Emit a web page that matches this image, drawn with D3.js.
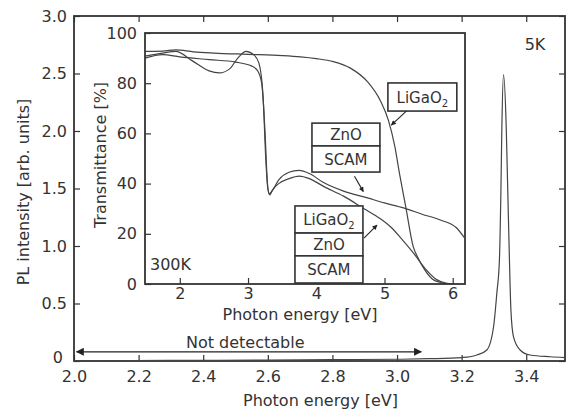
<!DOCTYPE html>
<html>
<head>
<meta charset="utf-8">
<script src="https://cdn.jsdelivr.net/npm/d3@7/dist/d3.min.js"></script>
<style>
  body { margin: 0; background: #fff; }
  text { font-family: "DejaVu Sans", sans-serif; fill: #333; }
</style>
</head>
<body>
<div id="chart-area"></div>
<script>
// PL spectrum at 5K (main plot)
const plEnergy = [2.0, 2.3, 2.6, 2.8, 3.0, 3.1, 3.2, 3.226, 3.247, 3.278, 3.299, 3.309, 3.317, 3.3215, 3.3246, 3.3296,
                  3.338, 3.343, 3.348, 3.3526, 3.3606, 3.381, 3.412, 3.474, 3.52];
const plIntensity = [0.0, 0.005, 0.008, 0.012, 0.015, 0.02, 0.03, 0.037, 0.052, 0.096, 0.3, 0.59, 0.88, 1.46, 2.04, 2.49,
                     2.04, 1.46, 0.88, 0.44, 0.21, 0.096, 0.052, 0.037, 0.03];

// Transmittance at 300K (inset)
const ligaoEnergy = [1.49, 1.75, 1.94, 2.2, 2.5, 3.0, 3.5, 3.77, 4.0, 4.25, 4.5, 4.75, 4.94, 5.06, 5.15, 5.22, 5.31, 5.42, 5.5, 5.57, 5.7, 5.82, 5.9];
const ligaoT      = [92.7, 92.8, 93.3, 92.5, 92.0, 91.5, 91.0, 90.5, 89.8, 88.6, 86.0, 80.6, 73.0, 65.0, 55.0, 44.0, 31.0, 15.0, 10.0, 6.5, 2.0, 0.6, 0.0];

const stackEnergy = [1.49, 1.75, 1.94, 2.19, 2.43, 2.58, 2.73, 2.85, 2.97, 3.09, 3.16, 3.22, 3.26, 3.29, 3.32, 3.36, 3.45, 3.6, 3.75, 3.9,
                     4.1, 4.4, 4.7, 4.94, 5.1, 5.25, 5.42, 5.6, 5.75, 5.9, 6.0];
const stackT      = [90.8, 92.0, 92.7, 88.8, 84.9, 84.1, 85.7, 90.0, 92.7, 91.2, 88.0, 75.0, 50.0, 38.0, 35.5, 37.5, 40.0, 42.0, 43.0, 42.0,
                     39.0, 35.0, 30.0, 26.0, 22.5, 18.0, 12.5, 6.0, 2.0, 0.4, 0.0];

const znoEnergy = [1.49, 1.75, 2.0, 2.43, 2.82, 3.05, 3.14, 3.2, 3.25, 3.28, 3.31, 3.35, 3.45, 3.6, 3.75, 3.9, 4.1, 4.4, 4.75, 5.0,
                   5.28, 5.55, 5.82, 6.05, 6.17];
const znoT      = [90.0, 91.4, 90.5, 89.4, 88.4, 86.9, 85.0, 80.0, 60.0, 42.0, 36.0, 37.0, 41.5, 44.5, 45.3, 44.0, 40.5, 37.0, 34.3, 32.3,
                   30.3, 27.8, 25.5, 22.5, 18.5];

// tick labels
const mainXTicks = [2.0, 2.2, 2.4, 2.6, 2.8, 3.0, 3.2, 3.4];
const mainYTicks = [0, 0.5, 1.0, 1.5, 2.0, 2.5, 3.0];
const insetXTicks = [2, 3, 4, 5, 6];
const insetYTicks = [0, 20, 40, 60, 80, 100];

const width = 571;
const height = 414;

const svg = d3.select("#chart-area")
    .append("svg")
    .attr("width", width)
    .attr("height", height);

const defs = svg.append("defs");
["arrowEnd", "arrowStart"].forEach((id, i) => {
    defs.append("marker")
        .attr("id", id)
        .attr("viewBox", "0 0 10 10")
        .attr("refX", i === 0 ? 9 : 1)
        .attr("refY", 5)
        .attr("markerWidth", 9)
        .attr("markerHeight", 8)
        .attr("markerUnits", "userSpaceOnUse")
        .attr("orient", "auto")
        .append("path")
        .attr("d", i === 0 ? "M0,0L10,5L0,10Z" : "M10,0L0,5L10,10Z")
        .attr("fill", "#222");
});
defs.append("marker")
    .attr("id", "smallArrow")
    .attr("viewBox", "0 0 10 10")
    .attr("refX", 9)
    .attr("refY", 5)
    .attr("markerWidth", 6)
    .attr("markerHeight", 5)
    .attr("markerUnits", "userSpaceOnUse")
    .attr("orient", "auto")
    .append("path")
    .attr("d", "M0,0L10,5L0,10Z")
    .attr("fill", "#222");

// ---------------- main plot ----------------
const xScale = d3.scaleLinear().domain([2.0, 3.52]).range([74, 565]);
const yScale = d3.scaleLinear().domain([0, 3.0]).range([361, 16]);

const fmtMain = d => d === 0 ? "0" : d3.format(".1f")(d);

const xAxisGroup = svg.append("g")
    .attr("transform", `translate(0,${yScale(0)})`)
    .call(d3.axisBottom(xScale).tickValues(mainXTicks).tickSize(-6).tickPadding(10).tickFormat(d3.format(".1f")));

svg.append("g")
    .attr("transform", `translate(0,${yScale(3)})`)
    .call(d3.axisTop(xScale).tickValues(mainXTicks).tickSize(-6).tickFormat(""));

const yAxisGroup = svg.append("g")
    .attr("transform", `translate(${xScale(2.0)},0)`)
    .call(d3.axisLeft(yScale).tickValues(mainYTicks).tickSize(-6).tickPadding(7).tickFormat(fmtMain));

// the "0" label sits a little higher and further left in the original
yAxisGroup.selectAll(".tick text").filter(d => d === 0).attr("dy", "0.1em").attr("x", -11);

svg.append("g")
    .attr("transform", `translate(${xScale.range()[1]},0)`)
    .call(d3.axisRight(yScale).tickValues(mainYTicks).tickSize(-6).tickFormat(""));

svg.selectAll(".domain").remove();
svg.selectAll(".tick line").attr("stroke", "#333").attr("stroke-width", 1.2);
svg.selectAll(".tick text").attr("font-size", 16).attr("font-family", "DejaVu Sans").attr("fill", "#333");

// frame
svg.append("rect")
    .attr("x", xScale(2.0))
    .attr("y", yScale(3))
    .attr("width", xScale.range()[1] - xScale(2.0))
    .attr("height", yScale(0) - yScale(3))
    .attr("fill", "none")
    .attr("stroke", "#333")
    .attr("stroke-width", 1.8);

// PL line
const plData = plEnergy.map((e, i) => ({ e: e, v: plIntensity[i] }));
svg.append("path")
    .datum(plData)
    .attr("fill", "none")
    .attr("stroke", "#444")
    .attr("stroke-width", 1.2)
    .attr("d", d3.line().x(d => xScale(d.e)).y(d => yScale(d.v)).curve(d3.curveMonotoneX));

// axis labels
svg.append("text")
    .attr("x", (xScale(2.0) + xScale.range()[1]) / 2 + 1)
    .attr("y", 406)
    .attr("text-anchor", "middle")
    .attr("font-size", 16)
    .text("Photon energy [eV]");

svg.append("text")
    .attr("transform", "rotate(-90)")
    .attr("x", -192)
    .attr("y", 29)
    .attr("text-anchor", "middle")
    .attr("font-size", 16)
    .text("PL intensity [arb. units]");

svg.append("text")
    .attr("x", 535)
    .attr("y", 50)
    .attr("text-anchor", "middle")
    .attr("font-size", 16)
    .text("5K");

// not detectable arrow
svg.append("line")
    .attr("x1", xScale(2.008))
    .attr("x2", xScale(3.075))
    .attr("y1", yScale(0.08))
    .attr("y2", yScale(0.08))
    .attr("stroke", "#222")
    .attr("stroke-width", 1.3)
    .attr("marker-start", "url(#arrowStart)")
    .attr("marker-end", "url(#arrowEnd)");

svg.append("text")
    .attr("x", xScale(2.53))
    .attr("y", yScale(0.08) - 4)
    .attr("text-anchor", "middle")
    .attr("font-size", 16)
    .text("Not detectable");

// ---------------- inset ----------------
const xIn = d3.scaleLinear().domain([1.49, 6.18]).range([145, 465]);
const yIn = d3.scaleLinear().domain([0, 100]).range([284, 33]);

const inset = svg.append("g");

inset.append("rect")
    .attr("x", xIn(1.49))
    .attr("y", yIn(100))
    .attr("width", xIn(6.18) - xIn(1.49))
    .attr("height", yIn(0) - yIn(100))
    .attr("fill", "#fff");

const inX = inset.append("g")
    .attr("transform", `translate(0,${yIn(0)})`)
    .call(d3.axisBottom(xIn).tickValues(insetXTicks).tickSize(-6).tickPadding(4).tickFormat(d3.format("d")));

const inY = inset.append("g")
    .attr("transform", `translate(${xIn(1.49)},0)`)
    .call(d3.axisLeft(yIn).tickValues(insetYTicks).tickSize(-6).tickPadding(8).tickFormat(d3.format("d")));

inset.selectAll(".domain").remove();
inset.selectAll(".tick line").attr("stroke", "#333").attr("stroke-width", 1.2);
inset.selectAll(".tick text").attr("font-size", 16).attr("font-family", "DejaVu Sans").attr("fill", "#333");

const tLine = d3.line().x(d => xIn(d.e)).y(d => yIn(d.t)).curve(d3.curveMonotoneX);
const series = [
    [ligaoEnergy, ligaoT],
    [stackEnergy, stackT],
    [znoEnergy, znoT]
];
inset.selectAll(".tcurve")
    .data(series.map(s => s[0].map((e, i) => ({ e: e, t: s[1][i] }))))
    .enter()
    .append("path")
    .attr("class", "tcurve")
    .attr("fill", "none")
    .attr("stroke", "#444")
    .attr("stroke-width", 1.2)
    .attr("d", tLine);

inset.append("rect")
    .attr("x", xIn(1.49))
    .attr("y", yIn(100))
    .attr("width", xIn(6.18) - xIn(1.49))
    .attr("height", yIn(0) - yIn(100))
    .attr("fill", "none")
    .attr("stroke", "#333")
    .attr("stroke-width", 1.8);

inset.append("text")
    .attr("x", (xIn(1.49) + xIn(6.18)) / 2 - 5)
    .attr("y", 320)
    .attr("text-anchor", "middle")
    .attr("font-size", 16)
    .text("Photon energy [eV]");

inset.append("text")
    .attr("transform", "rotate(-90)")
    .attr("x", -155)
    .attr("y", 106)
    .attr("text-anchor", "middle")
    .attr("font-size", 16)
    .text("Transmittance [%]");

inset.append("text")
    .attr("x", 150)
    .attr("y", 270)
    .attr("font-size", 16)
    .text("300K");

// labelled boxes: [E left, E right, list of [T top, T bottom, label]]
function drawStack(eLeft, eRight, rows) {
    rows.forEach(r => {
        inset.append("rect")
            .attr("x", xIn(eLeft))
            .attr("y", yIn(r[0]))
            .attr("width", xIn(eRight) - xIn(eLeft))
            .attr("height", yIn(r[1]) - yIn(r[0]))
            .attr("fill", "#fff")
            .attr("stroke", "#333")
            .attr("stroke-width", 1.6);
        const txt = inset.append("text")
            .attr("x", (xIn(eLeft) + xIn(eRight)) / 2)
            .attr("y", (yIn(r[0]) + yIn(r[1])) / 2 + 5.5)
            .attr("text-anchor", "middle")
            .attr("font-size", 15);
        if (r[2] === "LiGaO2") {
            txt.append("tspan").text("LiGaO");
            txt.append("tspan").attr("font-size", 10).attr("dy", 4).text("2");
        } else {
            txt.text(r[2]);
        }
    });
}

drawStack(5.05, 6.06, [[80.1, 68.9, "LiGaO2"]]);
drawStack(3.937, 4.933, [[64.1, 55.0, "ZnO"], [55.0, 44.6, "SCAM"]]);
drawStack(3.688, 4.684, [[31.1, 20.3, "LiGaO2"], [20.3, 11.2, "ZnO"], [11.2, 0.4, "SCAM"]]);

// pointer arrows: [E from, T from, E to, T to]
const pointers = [
    [5.32, 68.9, 5.10, 63.3],
    [4.56, 42.9, 4.69, 36.8],
    [4.70, 18.3, 4.89, 23.5]
];
inset.selectAll(".pointer")
    .data(pointers)
    .enter()
    .append("line")
    .attr("class", "pointer")
    .attr("x1", d => xIn(d[0]))
    .attr("y1", d => yIn(d[1]))
    .attr("x2", d => xIn(d[2]))
    .attr("y2", d => yIn(d[3]))
    .attr("stroke", "#222")
    .attr("stroke-width", 1.1)
    .attr("marker-end", "url(#smallArrow)");
</script>
</body>
</html>
